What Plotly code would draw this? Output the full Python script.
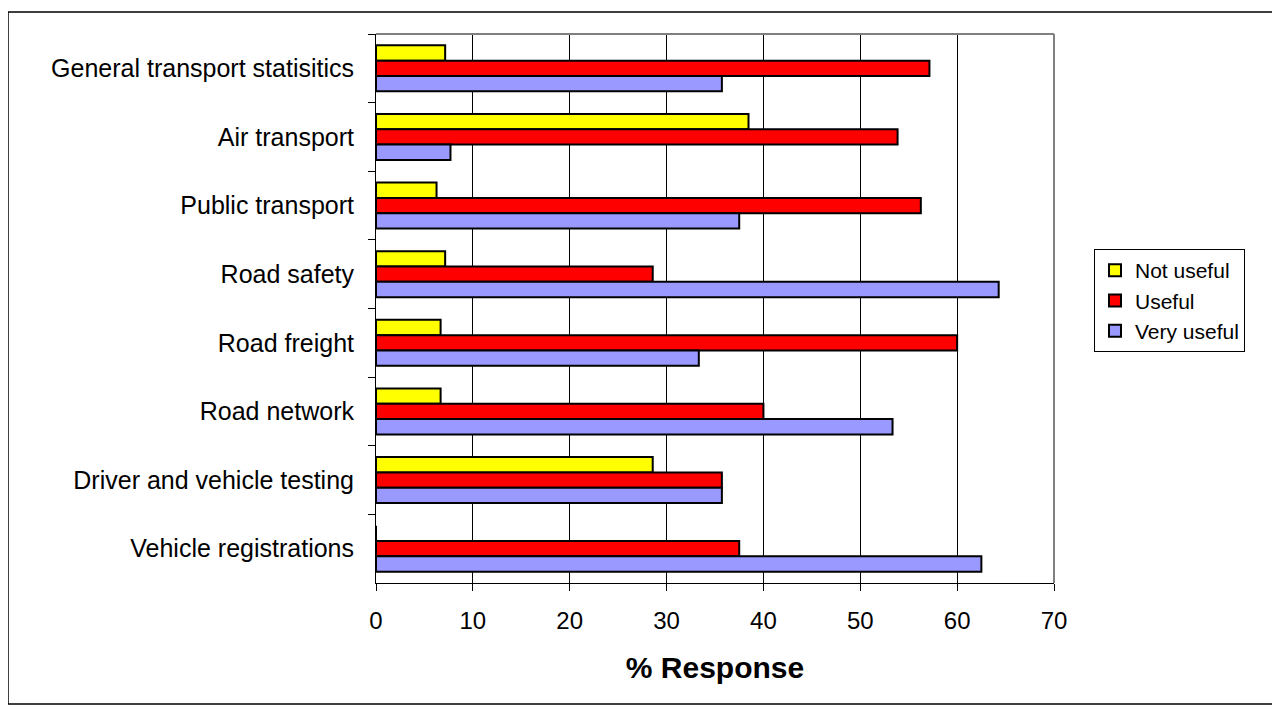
import plotly.graph_objects as go

categories = [
    "General transport statisitics",
    "Air transport",
    "Public transport",
    "Road safety",
    "Road freight",
    "Road network",
    "Driver and vehicle testing",
    "Vehicle registrations",
]
not_useful = [7.14, 38.46, 6.25, 7.14, 6.67, 6.67, 28.57, 0]
useful = [57.14, 53.85, 56.25, 28.57, 60.0, 40.0, 35.71, 37.5]
very_useful = [35.71, 7.69, 37.5, 64.29, 33.33, 53.33, 35.71, 62.5]
x_ticks = [0, 10, 20, 30, 40, 50, 60, 70]

series = [
    ("Not useful", not_useful, "#FFFF00"),
    ("Useful", useful, "#FF0000"),
    ("Very useful", very_useful, "#9999FF"),
]

fig = go.Figure()
for name, vals, color in series:
    fig.add_trace(go.Bar(
        y=categories, x=vals, name=name, orientation="h",
        marker=dict(color=color, line=dict(color="black", width=2)),
    ))

# window pixel geometry (page body has an 8px margin)
OFF = 8
L, R, T, B = 376, 1054, 34, 583
W, H = 1280 - OFF, 711 - OFF
pw, ph = R - L, B - T

def px(xpix):
    return (xpix - L) / pw

def py(ypix):
    return (B - ypix) / ph

fig.update_layout(
    width=W, height=H,
    margin=dict(l=L - OFF, r=W - (R - OFF), t=T - OFF, b=H - (B - OFF), pad=0),
    paper_bgcolor="white", plot_bgcolor="white",
    barmode="group", bargap=0.33, bargroupgap=0,
    font=dict(family="Liberation Sans, Arial, sans-serif", size=24, color="black"),
    showlegend=True,
    legend=dict(
        x=px(1094), y=py(249), xanchor="left", yanchor="top",
        bordercolor="black", borderwidth=1, bgcolor="white",
        font=dict(size=21), tracegroupgap=0, itemwidth=30,
    ),
    xaxis=dict(
        range=[0, 70], tickvals=x_ticks, ticktext=[str(v) for v in x_ticks],
        showgrid=True, gridcolor="black", gridwidth=1,
        showline=True, linecolor="black", linewidth=1,
        ticks="outside", ticklen=7, tickcolor="black",
        zeroline=False, ticklabelstandoff=9,
        tickfont=dict(size=24),
        title=dict(text="<b>% Response</b>", font=dict(size=30), standoff=24),
        fixedrange=True,
    ),
    yaxis=dict(
        autorange="reversed", type="category",
        showgrid=False, showline=True, linecolor="black", linewidth=1,
        ticks="outside", ticklen=7, tickcolor="black", tickson="boundaries",
        ticklabelstandoff=16, tickfont=dict(size=25), fixedrange=True,
    ),
    shapes=[
        dict(type="line", xref="paper", yref="paper", x0=0, x1=1, y0=1, y1=1,
             line=dict(color="#808080", width=2), layer="above"),
        dict(type="line", xref="paper", yref="paper", x0=1, x1=1, y0=0, y1=1,
             line=dict(color="#808080", width=2), layer="above"),
        dict(type="rect", xref="paper", yref="paper",
             x0=px(8), x1=px(1273), y0=py(704), y1=py(12),
             line=dict(color="black", width=1.5), fillcolor="rgba(0,0,0,0)", layer="below"),
    ],
)

fig.write_html("out.html", config={"displayModeBar": False})
